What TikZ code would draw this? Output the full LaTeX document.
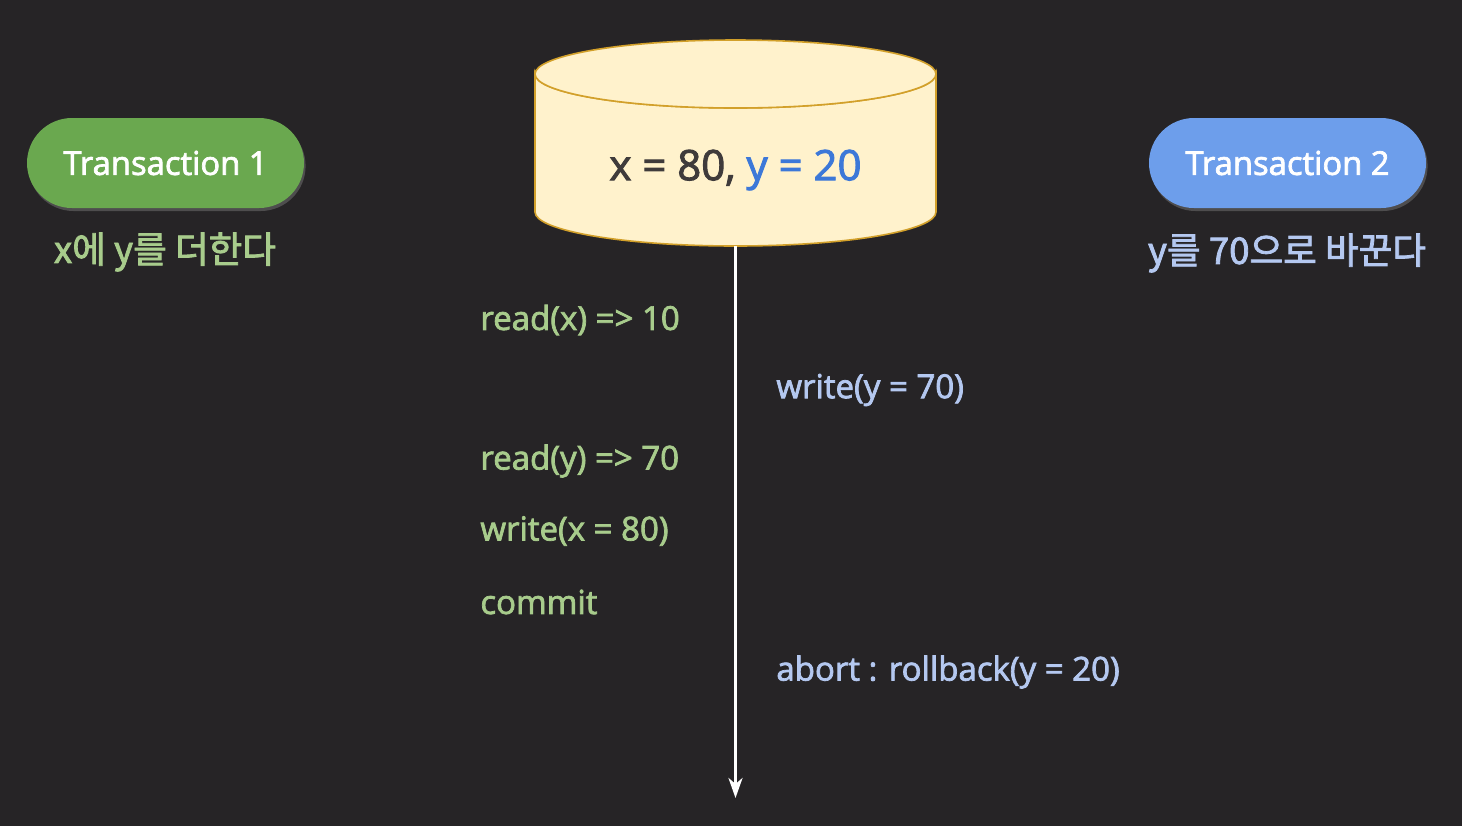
\documentclass[tikz,border=0pt]{standalone}
\usepackage{fontspec}
\setmainfont{Open Sans}
\newfontfamily\krf{Noto Sans CJK KR}[FakeBold=2.2]
\newfontfamily\lat{Open Sans}[FakeBold=2.2]
\usetikzlibrary{shadows,arrows.meta}
\definecolor{bg}{HTML}{262426}
\definecolor{pillgreen}{HTML}{6AA84F}
\definecolor{pillblue}{HTML}{6D9EEB}
\definecolor{txtgreen}{HTML}{A8CC8C}
\definecolor{txtblue}{HTML}{B4C8F0}
\definecolor{cylfill}{HTML}{FFF2CC}
\definecolor{cylline}{HTML}{D2A02A}
\definecolor{cyldark}{HTML}{3F3B3B}
\definecolor{cylblue}{HTML}{3C78D8}
\tikzset{
  pill/.style={rounded corners=22.5pt, minimum width=138.5pt, minimum height=45pt,
    text=white, font=\lat\fontsize{16.4}{19}\selectfont,
    drop shadow={opacity=0.45, shadow xshift=0.8pt, shadow yshift=-1.5pt}},
  sub/.style={font=\krf\fontsize{18.3}{21}\selectfont},
  opg/.style={anchor=west, text=txtgreen, font=\lat\fontsize{16.5}{19}\selectfont, inner sep=0pt},
  opb/.style={anchor=west, text=txtblue, font=\lat\fontsize{16.5}{19}\selectfont, inner sep=0pt},
  cyl/.style={fill=cylfill, draw=cylline, line width=0.8pt},
  timeline/.style={draw=white, line width=1.5pt, -{Stealth[length=10pt,width=7pt,inset=3pt]}}
}
\begin{document}
\begin{tikzpicture}[x=0.5pt,y=-0.5pt]
\fill[bg] (0,0) rectangle (1462,826);
\useasboundingbox (0,0) rectangle (1462,826);
% pills
\node[pill, fill=pillgreen] (t1) at (165.5,163) {Transaction 1};
\node[pill, fill=pillblue] (t2) at (1287.5,163) {Transaction 2};
\node[sub, text=txtgreen] (s1) at (165,252) {x에 y를 더한다};
\node[sub, text=txtblue] (s2) at (1287,253) {y를 70으로 바꾼다};
% database cylinder
\path[cyl] (535,74) -- (535,212) arc[start angle=180, end angle=0, x radius=200.5, y radius=34]
  -- (936,74) arc[start angle=0, end angle=180, x radius=200.5, y radius=34] -- cycle;
\path[cyl] (735.5,74) ellipse [x radius=200.5, y radius=34];
\node[font=\lat\fontsize{21}{25}\selectfont] (db) at (735.5,170) {\textcolor{cyldark}{x = 80,} \textcolor{cylblue}{y = 20}};
\coordinate (dbb) at (735.5,246);
\coordinate (tend) at (735.5,798);
\draw[timeline] (dbb) -- (tend);
% operations
\node[opg] (o1) at (480,320) {read(x) => 10};
\node[opb] (o2) at (776,390) {write(y = 70)};
\node[opg] (o3) at (480,461) {read(y) => 70};
\node[opg] (o4) at (480,531) {write(x = 80)};
\node[opg] (o5) at (480,602) {commit};
\node[opb] (o6) at (776,672) {abort : rollback(y = 20)};
\end{tikzpicture}
\end{document}
